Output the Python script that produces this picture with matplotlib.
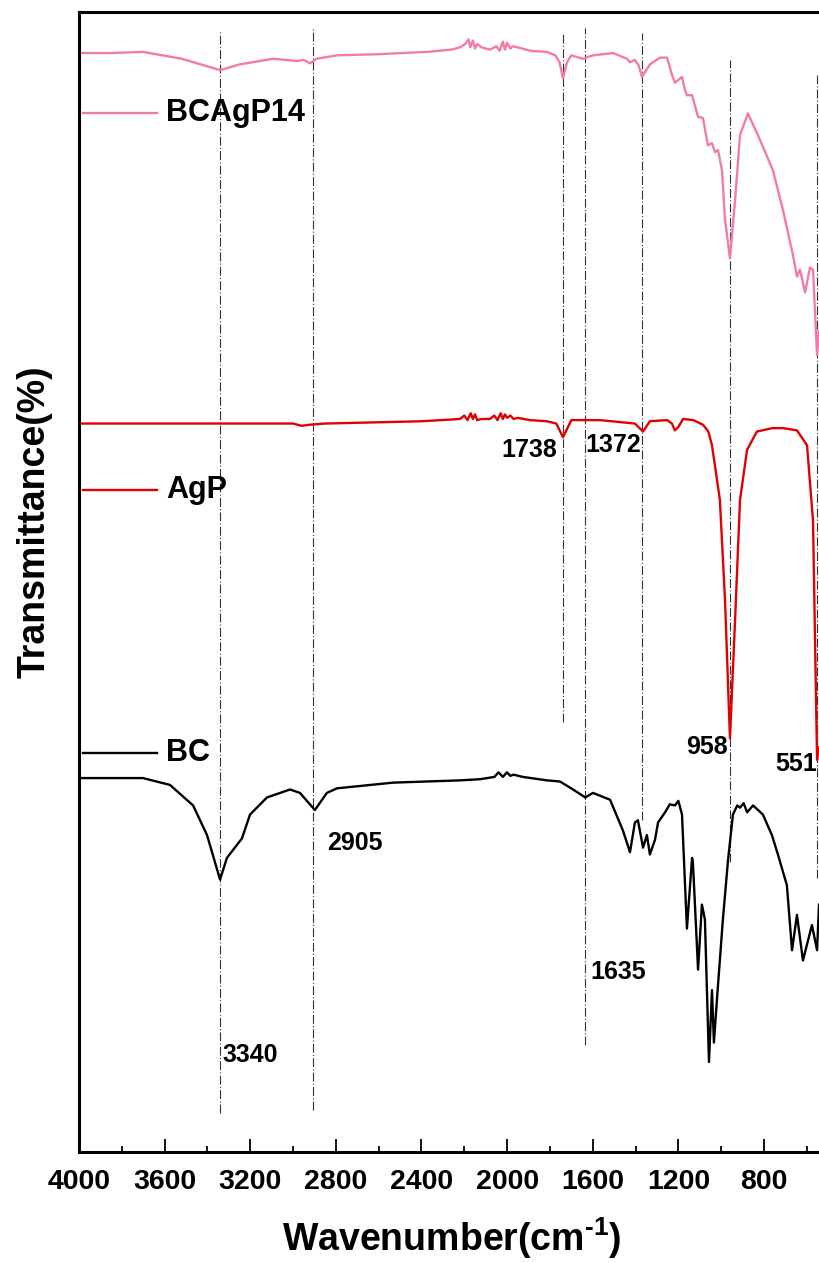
import matplotlib
matplotlib.use("Agg")
import matplotlib.pyplot as plt
from matplotlib.ticker import MultipleLocator

# --- Spectra (wavenumber in cm-1, transmittance in offset a.u.) ---
bcagp14_wn = [3995, 3850, 3701, 3520, 3341, 3250, 3094, 2980, 2950, 2921, 2890,
              2795, 2600, 2374, 2260, 2220, 2195, 2180, 2172, 2160, 2150, 2140,
              2120, 2080, 2050, 2035, 2020, 2010, 2000, 1985, 1973, 1930, 1893,
              1814, 1775, 1755, 1739, 1720, 1700, 1646, 1599, 1505, 1440, 1426,
              1403, 1385, 1370, 1350, 1333, 1286, 1253, 1230, 1216, 1183, 1170,
              1160, 1136, 1108, 1085, 1062, 1043, 1029, 1015, 996, 982, 959,
              935, 912, 875, 819, 758, 711, 665, 646, 632, 608, 585, 571, 552, 543]
bcagp14_t = [96.4, 96.4, 96.5, 95.9, 94.9, 95.4, 95.9, 95.7, 95.8, 95.5, 95.9,
             96.2, 96.3, 96.5, 96.7, 96.9, 97.2, 97.6, 96.9, 97.5, 96.8, 97.2,
             96.9, 96.7, 97.0, 96.6, 97.4, 96.7, 97.3, 96.8, 97.0, 96.8, 96.6,
             96.5, 96.2, 95.6, 94.2, 95.6, 96.2, 95.9, 96.2, 96.4, 95.9, 95.6,
             95.8, 95.3, 94.3, 94.9, 95.4, 96.0, 96.0, 94.5, 93.8, 94.3, 93.2,
             92.7, 92.7, 90.8, 90.7, 88.3, 88.5, 87.7, 87.9, 86.1, 81.8, 78.4,
             83.5, 89.2, 91.1, 88.8, 86.1, 82.6, 78.7, 76.8, 77.4, 75.4, 77.6,
             77.4, 69.9, 72.0]

agp_wn = [3995, 3400, 3000, 2960, 2921, 2850, 2400, 2220, 2200, 2185, 2170, 2160,
          2150, 2140, 2120, 2080, 2060, 2045, 2030, 2020, 2010, 2000, 1985, 1970,
          1950, 1893, 1814, 1770, 1739, 1700, 1646, 1566, 1403, 1365, 1333, 1253,
          1230, 1216, 1200, 1178, 1130, 1085, 1060, 1043, 1006, 982, 959, 935,
          912, 879, 833, 760, 711, 646, 599, 571, 552, 547]
agp_t = [63.9, 63.9, 63.9, 63.7, 63.8, 63.9, 64.1, 64.3, 64.6, 64.2, 64.8, 64.3,
         64.7, 64.2, 64.3, 64.3, 64.6, 64.2, 64.8, 64.3, 64.7, 64.4, 64.6, 64.3,
         64.4, 64.2, 64.1, 63.9, 62.7, 64.2, 64.2, 64.2, 63.9, 63.2, 64.1, 64.2,
         63.9, 63.3, 63.6, 64.3, 64.2, 63.8, 63.2, 62.0, 57.2, 48.4, 36.3, 46.7,
         57.2, 61.6, 63.2, 63.5, 63.5, 63.3, 62.0, 55.4, 34.4, 35.5]

bc_wn = [3995, 3701, 3575, 3467, 3402, 3341, 3309, 3239, 3201, 3122, 3014, 2968,
         2898, 2842, 2795, 2533, 2220, 2127, 2060, 2040, 2020, 2001, 1985, 1970,
         1926, 1814, 1753, 1692, 1635, 1599, 1519, 1459, 1426, 1403, 1389, 1365,
         1347, 1333, 1309, 1295, 1262, 1240, 1216, 1200, 1183, 1160, 1136, 1132,
         1108, 1090, 1076, 1057, 1043, 1034, 1015, 992, 968, 945, 925, 912, 895,
         879, 851, 805, 763, 735, 693, 669, 646, 618, 576, 552, 543]
bc_t = [32.8, 32.8, 32.2, 30.4, 27.8, 23.9, 25.8, 27.5, 29.6, 31.1, 31.8, 31.5,
        30.0, 31.5, 31.9, 32.4, 32.6, 32.7, 32.9, 33.3, 32.9, 33.3, 33.0, 33.1,
        32.9, 32.6, 32.5, 31.8, 31.1, 31.5, 30.9, 28.2, 26.3, 28.9, 29.1, 26.7,
        27.8, 26.1, 27.4, 28.9, 29.8, 30.5, 30.4, 30.8, 29.6, 19.6, 25.8, 25.4,
        16.0, 21.7, 20.4, 7.9, 14.2, 9.6, 14.6, 20.4, 25.6, 29.6, 30.4, 30.2, 30.6,
        29.8, 30.4, 29.6, 27.8, 26.1, 23.4, 17.7, 20.8, 16.8, 19.9, 17.7, 21.7]

# Marked bands: position, top and bottom of the guide line
band_pos = [3340, 2905, 1738, 1635, 1372, 958, 551]
band_top = [98.4, 98.7, 98.2, 98.6, 98.2, 95.8, 94.5]
band_bottom = [3.4, 3.7, 37.7, 9.4, 29.1, 25.4, 24.0]

# Band labels: text, x, y, alignment
label_text = ["3340", "2905", "1635", "1738", "1372", "958", "551"]
label_x = [3332, 2842, 1613, 1767, 1636, 968, 552]
label_y = [8.5, 27.1, 15.8, 61.6, 62.0, 35.5, 34.0]
label_ha = ["left", "left", "left", "right", "left", "right", "right"]

# Sample names with their colours and key-line heights
names = ["BCAgP14", "AgP", "BC"]
colors = ["#F27BAB", "#E00000", "#000000"]
key_y = [91.1, 58.1, 35.0]

# --- Style ---
plt.rcParams['font.family'] = ['Liberation Sans', 'DejaVu Sans']
plt.rcParams['font.weight'] = 'bold'
plt.rcParams['mathtext.fontset'] = 'custom'
plt.rcParams['mathtext.rm'] = 'Liberation Sans'
plt.rcParams['mathtext.bf'] = 'Liberation Sans:bold'

fig = plt.figure(figsize=(8.19, 12.62), dpi=100)
ax = fig.add_axes([79/819, 110/1262, 740/819, 1140/1262])

# Guide lines under the spectra
for pos, top, bot in zip(band_pos, band_top, band_bottom):
    ax.plot([pos, pos], [bot, top], color='#333333', linewidth=0.8,
            linestyle=(0, (8, 2, 1, 2)), zorder=1)

# Spectra
for wn, t, c in zip([bcagp14_wn, agp_wn, bc_wn], [bcagp14_t, agp_t, bc_t], colors):
    ax.plot(wn, t, color=c, linewidth=1.7, zorder=2)

# Key lines and names inside the plot
for name, c, y in zip(names, colors, key_y):
    ax.plot([3981, 3636], [y, y], color=c, linewidth=1.7)
    ax.text(3594, y, name, fontsize=22, fontweight='bold', va='center', ha='left')

# Band labels
for txt, x, y, ha in zip(label_text, label_x, label_y, label_ha):
    ax.text(x, y, txt, fontsize=18, fontweight='bold', va='center', ha=ha)

ax.set_xlim(4000, 543)
ax.set_ylim(0, 100)
ax.xaxis.set_major_locator(MultipleLocator(400))
ax.xaxis.set_minor_locator(MultipleLocator(200))
ax.tick_params(axis='x', which='major', direction='in', length=9.5, width=1.3,
               labelsize=20.5, pad=12)
ax.tick_params(axis='x', which='minor', direction='in', length=4.5, width=1.3)
ax.set_yticks([])
for lab in ax.get_xticklabels():
    lab.set_fontweight('bold')

for side in ['left', 'top', 'bottom']:
    ax.spines[side].set_linewidth(2.2)
ax.spines['right'].set_visible(False)

fig.text(452/819, 1 - 1238/1262, r'Wavenumber(cm$^{\mathbf{\text{-}1}}$)',
         fontsize=27, fontweight='bold', ha='center', va='center')
fig.text(35/819, 1 - 522/1262, 'Transmittance(%)', fontsize=27,
         fontweight='bold', rotation=90, ha='center', va='center')

fig.savefig('out.png', dpi=100)
